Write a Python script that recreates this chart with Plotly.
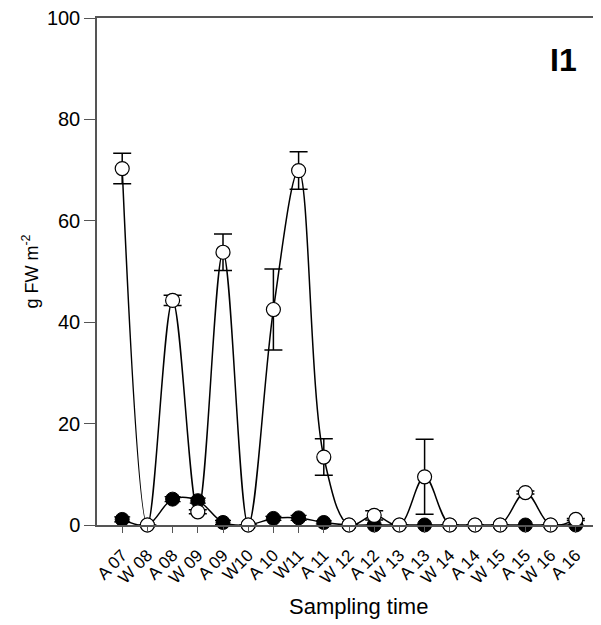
import plotly.graph_objects as go

categories = ["A 07", "W 08", "A 08", "W 09", "A 09", "W10", "A 10", "W11", "A 11", "W 12",
              "A 12", "W 13", "A 13", "W 14", "A 14", "W 15", "A 15", "W 16", "A 16"]

open_vals = [70.3, 0, 44.3, 2.6, 53.8, 0, 42.5, 69.9, 13.4, 0, 1.9, 0, 9.5, 0, 0, 0, 6.4, 0, 1.1]
open_err = [3.0, 0, 1.0, 0.4, 3.6, 0, 8.0, 3.7, 3.6, 0, 0.9, 0, 7.4, 0, 0, 0, 0.3, 0, 0.2]

filled_vals = [1.1, 0, 5.1, 4.8, 0.5, 0, 1.3, 1.4, 0.5, 0, 0, 0, 0, 0, 0, 0, 0, 0, 0]
filled_err = [0.5, 0, 0.5, 0.5, 0.4, 0, 0.4, 0.5, 0.3, 0, 0, 0, 0, 0, 0, 0, 0, 0, 0]

xi = list(range(len(categories)))

# page has an 8px body margin; compensate so plot area sits at px 97..601 x 18..525
OFF = 8
W, H = 601 - OFF, 625 - OFF
ML, MT, MB, MR = 97 - OFF, 18 - OFF, 100, 0
pw, ph = W - ML - MR, H - MT - MB


def px_x(x):
    return (x - 97) / pw


def px_y(y):
    return (525 - y) / ph


fig = go.Figure()
fig.add_trace(go.Scatter(
    x=xi, y=filled_vals, mode="lines+markers",
    line=dict(color="black", width=1.5, shape="spline", smoothing=1.0),
    marker=dict(symbol="circle", size=14, color="black", line=dict(color="black", width=1)),
    error_y=dict(type="data", array=filled_err, visible=True, color="black", thickness=1.2, width=8),
    cliponaxis=False, showlegend=False))
fig.add_trace(go.Scatter(
    x=xi, y=open_vals, mode="lines+markers",
    line=dict(color="black", width=1.5, shape="spline", smoothing=1.0),
    marker=dict(symbol="circle", size=14, color="white", line=dict(color="black", width=1.2)),
    error_y=dict(type="data", array=open_err, visible=True, color="black", thickness=1.5, width=9),
    cliponaxis=False, showlegend=False))

fig.update_layout(
    width=W, height=H,
    margin=dict(l=ML, r=MR, t=MT, b=MB),
    plot_bgcolor="white", paper_bgcolor="white",
    font=dict(family="Arial, Liberation Sans, sans-serif", color="black"),
    xaxis=dict(
        range=[-1, 19], tickmode="array", tickvals=xi, ticktext=categories,
        tickangle=-45, tickfont=dict(size=17), ticks="outside", ticklen=6,
        ticklabelstandoff=6,
        tickcolor="#555", showline=True, linecolor="#555", linewidth=1.5,
        mirror=True, showgrid=False, zeroline=False),
    yaxis=dict(
        range=[0, 100], tickvals=[0, 20, 40, 60, 80, 100], tickfont=dict(size=20),
        ticklabeloverflow="allow",
        ticks="outside", ticklen=11, tickcolor="#555", showline=True,
        linecolor="#555", linewidth=1.5, showgrid=False, zeroline=False,
        title=dict(text="g FW m<sup>-2</sup>", font=dict(size=18), standoff=4)),
)
fig.add_annotation(text="<b>I1</b>", x=px_x(563), y=px_y(60), xref="paper", yref="paper",
                   xanchor="center", yanchor="middle",
                   showarrow=False, font=dict(size=32, color="black"))
fig.add_annotation(text="Sampling time", x=px_x(358), y=px_y(606), xref="paper", yref="paper",
                   xanchor="center", yanchor="middle",
                   showarrow=False, font=dict(size=22, color="black"))

fig.write_html("out.html")
